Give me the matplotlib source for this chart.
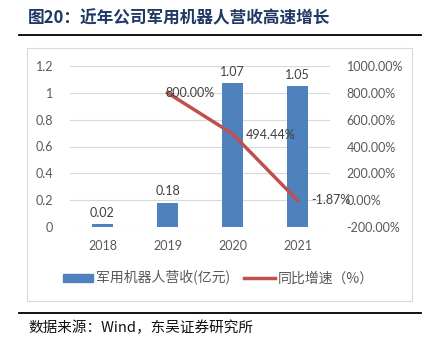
import matplotlib.pyplot as plt
from matplotlib.patches import Rectangle
from matplotlib.lines import Line2D

plt.rcParams['font.family'] = ['Lato', 'Noto Sans CJK SC', 'DejaVu Sans']

years = ['2018', '2019', '2020', '2021']
revenue = [0.02, 0.18, 1.07, 1.05]          # 亿元
growth_years = ['2019', '2020', '2021']
growth = [800.00, 494.44, -1.87]            # %

bar_color = '#4F81BD'
line_color = '#C0504D'
tick_color = '#595959'
grid_color = '#D9D9D9'

fig = plt.figure(figsize=(4.35, 3.46), dpi=100)

# title bar and rules
fig.text(28 / 435, 1 - 18 / 346, '图20：近年公司军用机器人营收高速增长',
         fontsize=12, fontweight='bold', color='#1F3864',
         family=['Noto Sans CJK SC'], va='center', ha='left')
fig.add_artist(Line2D([19 / 435, 421 / 435], [1 - 35 / 346] * 2, color='black', lw=1.3))
fig.add_artist(Line2D([19 / 435, 421 / 435], [1 - 313 / 346] * 2, color='black', lw=1.3))
fig.text(28 / 435, 1 - 328 / 346, '数据来源：Wind，东吴证券研究所',
         fontsize=10.5, color='#111111', family=['Noto Sans CJK SC'], va='center', ha='left')

# chart frame
fig.add_artist(Rectangle((27 / 435, 1 - 301 / 346), (412 - 27) / 435, (301 - 48) / 346,
                         transform=fig.transFigure, fill=False, edgecolor=grid_color, lw=0.8))

ax = fig.add_axes([70 / 435, 1 - 227 / 346, 260 / 435, 161 / 346])
x = list(range(len(years)))
bars = ax.bar(x, revenue, width=0.31, color=bar_color, zorder=3)
ax.set_xlim(-0.5, 3.5)
ax.set_ylim(0, 1.2)
ax.set_yticks([0, 0.2, 0.4, 0.6, 0.8, 1.0, 1.2])
ax.set_yticklabels(['0', '0.2', '0.4', '0.6', '0.8', '1', '1.2'])
ax.set_xticks(x)
ax.set_xticklabels(years)
ax.grid(axis='y', color=grid_color, lw=0.8, zorder=0)
for s in ax.spines.values():
    s.set_visible(False)
ax.tick_params(length=0, colors=tick_color, labelsize=9)
ax.tick_params(axis='y', pad=12)
ax.tick_params(axis='x', pad=9)
for xi, v in zip(x, revenue):
    ax.text(xi, v + 0.04, f'{v:.2f}', ha='center', va='bottom', fontsize=9, color='#404040')

ax2 = ax.twinx()
gx = [years.index(y) for y in growth_years]
ax2.plot(gx, growth, color=line_color, lw=2.5, zorder=4)
ax2.set_ylim(-200, 1000)
ax2.set_yticks(range(-200, 1001, 200))
ax2.set_yticklabels([f'{v:.2f}%' for v in range(-200, 1001, 200)])
for s in ax2.spines.values():
    s.set_visible(False)
ax2.tick_params(length=0, colors=tick_color, labelsize=9, pad=12)
offsets = [(-0.03, 0), (0.21, -10), (0.21, 0)]
for xi, v, (dx, dy) in zip(gx, growth, offsets):
    ax2.text(xi + dx, v + dy, f'{v:.2f}%', ha='left', va='center', fontsize=9, color='#404040',
             zorder=5)

# legend
handles = [Rectangle((0, 0), 1, 1, color=bar_color),
           Line2D([0], [0], color=line_color, lw=2.5)]
fig.legend(handles, ['军用机器人营收(亿元)', '同比增速（%）'], loc='center',
           bbox_to_anchor=(218 / 435, 1 - 278 / 346), ncol=2, frameon=False,
           labelcolor=tick_color, handlelength=2.2, handleheight=0.5,
           handletextpad=0.2, columnspacing=1.0, prop={'family': ['Noto Sans CJK SC'], 'size': 10})

fig.savefig('out.png', dpi=100)
